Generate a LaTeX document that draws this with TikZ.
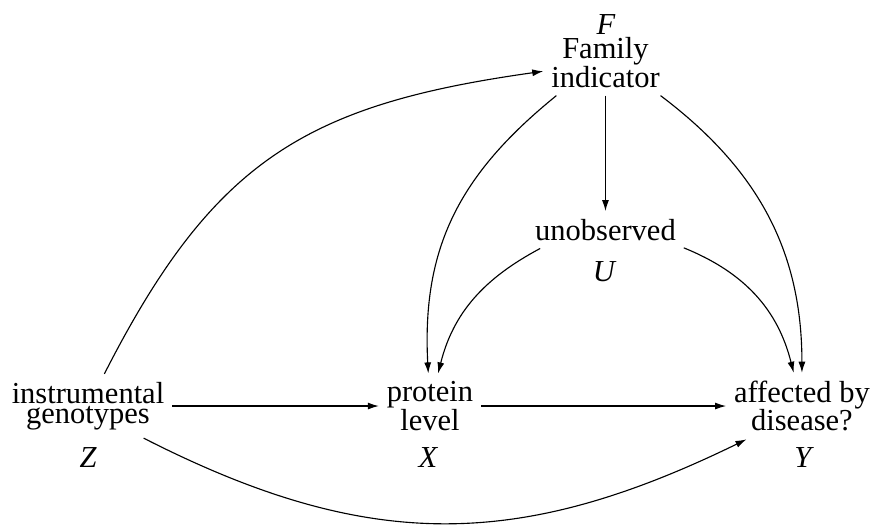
\documentclass[tikz,border=0pt]{standalone}
\usepackage{fontspec}
\setmainfont{Liberation Serif}
\usetikzlibrary{arrows.meta}
\pgfdeclarelayer{edgelayer}
\pgfdeclarelayer{nodelayer}
\pgfsetlayers{edgelayer,nodelayer,main}
\tikzset{font=\fontsize{12.2}{11.5}\selectfont}
\tikzstyle{var}=[align=center,inner sep=3pt]
\tikzstyle{sym}=[inner sep=0pt,font=\fontsize{12.2}{14}\selectfont\itshape]
\tikzstyle{causal}=[-{Latex[length=4.4pt,width=2.8pt]},line width=0.45pt]

\begin{document}
\begin{tikzpicture}
	\useasboundingbox (0, 0) rectangle (12.273, 7.381);
	\begin{pgfonlayer}{nodelayer}
		\node [style=sym] (0) at (8.519, 7.043) {F};
		\node [style=var] (1) at (8.512, 6.502) {Family\\indicator};
		\node [style=var] (2) at (8.512, 4.151) {unobserved};
		\node [style=sym] (3) at (8.491, 3.557) {U};
		\node [style=var, font=\fontsize{12.2}{8.2}\selectfont] (4) at (1.237, 1.673) {instrumental\\genotypes};
		\node [style=var] (5) at (6.045, 1.673) {protein\\level};
		\node [style=var] (6) at (11.274, 1.673) {affected by\\disease?};
		\node [style=sym] (7) at (1.237, 0.956) {Z};
		\node [style=sym] (8) at (6.017, 0.956) {X};
		\node [style=sym] (9) at (11.288, 0.956) {Y};
	\end{pgfonlayer}
	\begin{pgfonlayer}{edgelayer}
		\draw [style=causal, in=188, out=63, looseness=1.15] (4) to (1);
		\draw [style=causal, in=93, out=219, looseness=1.05] (1.214) to (5);
		\draw [style=causal] (1) to (2);
		\draw [style=causal, in=90, out=-37, looseness=1.00] (1.-31) to (6);
		\draw [style=causal, in=76, out=208, looseness=1.00] (2.196) to (5);
		\draw [style=causal, in=104, out=-22, looseness=1.00] (2.-13) to (6);
		\draw [style=causal] (4) to (5);
		\draw [style=causal] (5) to (6);
		\draw [style=causal, in=206, out=-27, looseness=1.07] (4.-30) to (6.211);
	\end{pgfonlayer}
\end{tikzpicture}
\end{document}
